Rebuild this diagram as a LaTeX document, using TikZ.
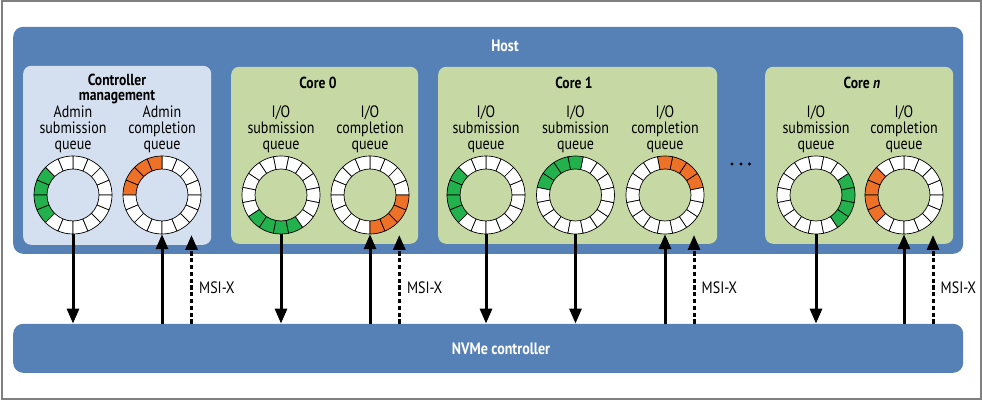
\documentclass[tikz,border=0pt]{standalone}
\usepackage{fontspec}
\setmainfont{PT Sans}[FakeStretch=0.85]
\usetikzlibrary{arrows.meta}
\definecolor{hostblue}{RGB}{86,129,182}
\definecolor{mgmtblue}{RGB}{212,224,239}
\definecolor{coregreen}{RGB}{198,217,165}
\definecolor{seggreen}{RGB}{34,177,77}
\definecolor{segorange}{RGB}{237,113,38}
\definecolor{framegray}{RGB}{128,128,128}
\newcommand\qring[6]{% name, cx, cy, offset, first coloured index, colour
  \node[circle, minimum size=78pt, inner sep=0pt] (#1) at (#2,#3) {};
  \foreach \k in {0,...,15}{%
    \pgfmathsetmacro\aa{#4+22.5*\k}%
    \pgfmathsetmacro\bb{#4+22.5*(\k+1)}%
    \pgfmathtruncatemacro\isc{mod(\k-#5+16,16)<4 ? 1 : 0}%
    \ifnum\isc=1 \def\fc{#6}\else\def\fc{white}\fi
    \filldraw[shift={(#2,#3)}, fill=\fc, draw=black, line width=0.7pt, line join=round]
      (\aa:39) arc[start angle=\aa, end angle=\bb, radius=39]
      -- (\bb:26) arc[start angle=\bb, end angle=\aa, radius=26] -- cycle;
  }%
}
\begin{document}
\begin{tikzpicture}[x=1pt,y=1pt,
  bigbox/.style={fill=hostblue, draw=none, rounded corners=10pt, inner sep=0pt, anchor=south west},
  mgmtbox/.style={fill=mgmtblue, draw=none, rounded corners=8pt, inner sep=0pt, anchor=south west},
  corebox/.style={fill=coregreen, draw=none, rounded corners=8pt, inner sep=0pt, anchor=south west},
  whitelbl/.style={text=white, font=\fontsize{16.5}{16.5}\selectfont\bfseries, inner sep=0pt},
  boxlbl/.style={text=black, font=\fontsize{16}{15.5}\selectfont\bfseries, inner sep=0pt, align=center},
  qlbl/.style={text=black, font=\fontsize{16.5}{15.8}\selectfont, inner sep=0pt, align=center},
  msilbl/.style={text=black, font=\fontsize{16.5}{16}\selectfont, inner sep=0pt, anchor=base west},
  arr/.style={line width=3pt, -{Triangle[length=15pt,width=12pt]}},
  darr/.style={line width=3pt, dash pattern=on 4.2pt off 2.6pt, -{Triangle[length=15pt,width=12pt]}}
]
\useasboundingbox (0,0) rectangle (982,401);
\fill[white] (0,0) rectangle (982,401);
\draw[framegray, line width=2pt] (1.5,2) rectangle (980.5,399.7);

% main boxes
\node[bigbox, minimum width=950pt, minimum height=227pt] (host) at (13,147) {};
\node[bigbox, minimum width=950pt, minimum height=49pt] (nvme) at (13,28) {};
\node[whitelbl, anchor=base] (hostlbl) at (505,349) {Host};
\node[whitelbl, anchor=base] (nvmelbl) at (501,46) {NVMe controller};

% inner boxes
\node[mgmtbox, minimum width=188pt, minimum height=179pt] (mgmt) at (23,156) {};
\node[corebox, minimum width=187pt, minimum height=177pt] (core0) at (231,157) {};
\node[corebox, minimum width=279pt, minimum height=177pt] (core1) at (438,157) {};
\node[corebox, minimum width=188pt, minimum height=177pt] (coren) at (765,157) {};

\node[boxlbl] (mgmtlbl) at (117,312) {Controller\\management};
\node[boxlbl, anchor=base] (c0lbl) at (318,312) {Core 0};
\node[boxlbl, anchor=base] (c1lbl) at (574,312) {Core 1};
\node[boxlbl, anchor=base] (cnlbl) at (862,312) {Core \textit{n}};

% queue labels
\node[qlbl] (q1) at (73,271.5) {Admin\\submission\\queue};
\node[qlbl] (q2) at (162,271.5) {Admin\\completion\\queue};
\node[qlbl] (q3) at (281,271.5) {I/O\\submission\\queue};
\node[qlbl] (q4) at (370,271.5) {I/O\\completion\\queue};
\node[qlbl] (q5) at (486,271.5) {I/O\\submission\\queue};
\node[qlbl] (q6) at (575.5,271.5) {I/O\\submission\\queue};
\node[qlbl] (q7) at (665,271.5) {I/O\\completion\\queue};
\node[qlbl] (q8) at (816,271.5) {I/O\\submission\\queue};
\node[qlbl] (q9) at (904,271.5) {I/O\\completion\\queue};

% rings
\qring{r1}{73}{206}{0}{6}{seggreen}
\qring{r2}{162}{206}{0}{4}{segorange}
\qring{r3}{281}{206}{11.25}{9}{seggreen}
\qring{r4}{370}{206}{0}{12}{segorange}
\qring{r5}{486}{206}{0}{6}{seggreen}
\qring{r6}{575.5}{206}{11.25}{3}{seggreen}
\qring{r7}{665}{206}{11.25}{0}{segorange}
\qring{r8}{816}{206}{11.25}{13}{seggreen}
\qring{r9}{904}{206}{0}{6}{segorange}

% dots
\foreach \dx in {732,741,749.5}{\fill[black] (\dx,237) circle (1.7);}

% arrows
\draw[arr] (r1.south) -- (r1.south |- nvme.north);
\draw[arr] (r2.south |- nvme.north) -- (r2.south);
\draw[arr] (r3.south) -- (r3.south |- nvme.north);
\draw[arr] (r4.south |- nvme.north) -- (r4.south);
\draw[arr] (r5.south) -- (r5.south |- nvme.north);
\draw[arr] (r6.south) -- (r6.south |- nvme.north);
\draw[arr] (r7.south |- nvme.north) -- (r7.south);
\draw[arr] (r8.south) -- (r8.south |- nvme.north);
\draw[arr] (r9.south |- nvme.north) -- (r9.south);

\coordinate (i1) at (191.5,166);
\coordinate (i2) at (399.3,166);
\coordinate (i3) at (694,166);
\coordinate (i4) at (933,166);
\draw[darr] (i1 |- nvme.north) -- (i1);
\draw[darr] (i2 |- nvme.north) -- (i2);
\draw[darr] (i3 |- nvme.north) -- (i3);
\draw[darr] (i4 |- nvme.north) -- (i4);
\node[msilbl] (msi1) at (199,107) {MSI-X};
\node[msilbl] (msi2) at (406.8,107) {MSI-X};
\node[msilbl] (msi3) at (701.5,107) {MSI-X};
\node[msilbl] (msi4) at (940.5,107) {MSI-X};
\end{tikzpicture}
\end{document}
